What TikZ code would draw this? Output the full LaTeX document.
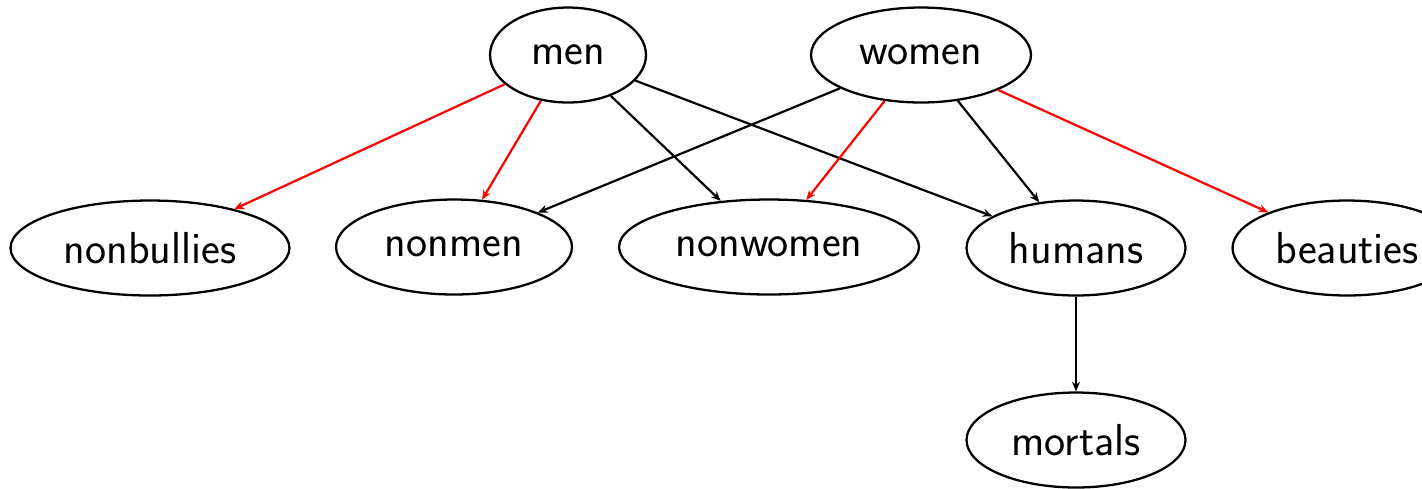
\documentclass[tikz,border=0pt]{standalone}
\usepackage{fontspec}
\usetikzlibrary{shapes.geometric,arrows.meta}
\tikzset{
  concept/.style={ellipse, draw=black, line width=1.3pt, inner sep=0pt,
    font=\sffamily\fontsize{25.5}{30}\selectfont, minimum height=1.9cm},
  link/.style={line width=1.25pt, -{Stealth[length=5.5pt,width=4.6pt]}},
  neg/.style={link, draw=red},
}
\begin{document}
\begin{tikzpicture}[x=0.02cm, y=-0.02cm]
  \useasboundingbox (0,0) rectangle (1422,488);
  % top row
  \node[concept, minimum width=3.12cm] (men)   at (568,55)  {men};
  \node[concept, minimum width=4.40cm] (women) at (921,55)  {women};
  % middle row
  \node[concept, minimum width=5.58cm] (nonbullies) at (150,248) {nonbullies};
  \node[concept, minimum width=4.72cm] (nonmen)     at (454,247) {nonmen};
  \node[concept, minimum width=6.00cm] (nonwomen)   at (769,247) {nonwomen};
  \node[concept, minimum width=4.38cm] (humans)     at (1076,248) {humans};
  \node[concept, minimum width=4.58cm] (beauties)   at (1347,248) {beauties};
  % bottom row
  \node[concept, minimum width=4.38cm] (mortals)    at (1076,440) {mortals};
  % relations
  \draw[neg]  (men) -- (nonbullies);
  \draw[neg]  (men) -- (nonmen);
  \draw[link] (men) -- (nonwomen);
  \draw[link] (men) -- (humans);
  \draw[link] (women) -- (nonmen);
  \draw[neg]  (women) -- (nonwomen);
  \draw[link] (women) -- (humans);
  \draw[neg]  (women) -- (beauties);
  \draw[link] (humans) -- (mortals);
\end{tikzpicture}
\end{document}
